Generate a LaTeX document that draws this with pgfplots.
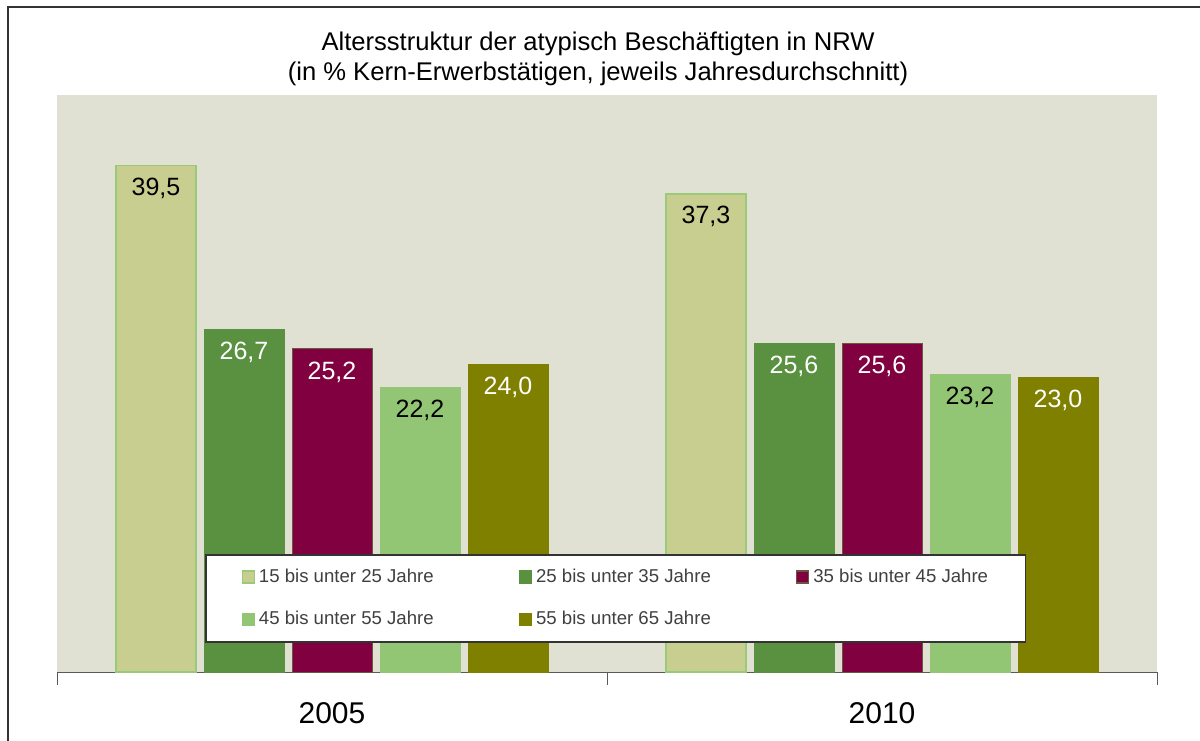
\documentclass[border=0pt]{standalone}
\usepackage{fontspec}
\setmainfont{Liberation Sans}
\usepackage{pgfplots}
\pgfplotsset{compat=1.18}
\definecolor{plotbg}{HTML}{E0E1D3}
\definecolor{sA}{HTML}{C8CE8F}
\definecolor{sAedge}{HTML}{98CA78}
\definecolor{sB}{HTML}{5A9140}
\definecolor{sC}{HTML}{800040}
\definecolor{sD}{HTML}{93C674}
\definecolor{sE}{HTML}{808000}
\definecolor{legtext}{HTML}{404040}
\definecolor{framegray}{HTML}{333333}

\begin{document}
\begin{tikzpicture}
  \useasboundingbox (0,0) rectangle (600pt,370pt);
  \draw[framegray,line width=1pt] (4pt,-2pt) -- (4pt,366.5pt) -- (602pt,366.5pt);
  \node[align=center,font=\fontsize{12.8}{15}\selectfont] at (299pt,340.5pt)
    {Altersstruktur der atypisch Beschäftigten in NRW\\(in \% Kern-Erwerbstätigen, jeweils Jahresdurchschnitt)};
  \begin{axis}[
      at={(28.5pt,34pt)}, anchor=south west,
      scale only axis,
      width=550pt, height=288.5pt,
      xmin=-0.5, xmax=1.5,
      ymin=0, ymax=45,
      ybar=4pt, bar width=40pt,
      axis background/.style={fill=plotbg},
      axis x line*=bottom,
      axis y line=none,
      x axis line style={gray!70!black,-},
      xtick={0,1},
      xticklabels={2005,2010},
      major tick length=0pt,
      minor xtick={-0.5,0.5,1.5},
      minor tick length=6.5pt,
      tick align=outside,
      minor tick style={gray!70!black},
      xticklabel style={font=\fontsize{15}{17}\selectfont, anchor=center, yshift=-20.5pt},
      ytick=\empty,
      nodes near coords,
      /pgf/number format/.cd, use comma, fixed, fixed zerofill, precision=1, assume math mode=true,
      /pgfplots/.cd,
      every node near coord/.append style={font=\fontsize{12.5}{14}\selectfont, anchor=center, yshift=-11.5pt},
      legend columns=3,
      legend cell align=left,
      legend style={at={(0.1345,0.2045)}, anchor=north west,
        draw=framegray, fill=white, line width=0.8pt,
        font=\fontsize{9.3}{11}\selectfont, text=legtext,
        inner xsep=18pt, inner ysep=5pt,
        /tikz/row sep=9pt},
      legend image code/.code={\draw[#1,line width=0.6pt] (0pt,-3pt) rectangle (6pt,3pt);},
    ]
    \addplot[fill=sA, draw=sAedge, line width=0.8pt, every node near coord/.append style={text=black}]
      coordinates {(0,39.5) (1,37.3)};
    \addplot[fill=sB, draw=sB, every node near coord/.append style={text=white}]
      coordinates {(0,26.7) (1,25.6)};
    \addplot[fill=sC, draw=sB!60!sC, line width=0.5pt, every node near coord/.append style={text=white}]
      coordinates {(0,25.2) (1,25.6)};
    \addplot[fill=sD, draw=sD, every node near coord/.append style={text=black}]
      coordinates {(0,22.2) (1,23.2)};
    \addplot[fill=sE, draw=sE, every node near coord/.append style={text=white}]
      coordinates {(0,24.0) (1,23.0)};
    \legend{\makebox[128pt][l]{15 bis unter 25 Jahre},
            \makebox[128pt][l]{25 bis unter 35 Jahre},
            \makebox[86pt][l]{35 bis unter 45 Jahre},
            \makebox[128pt][l]{45 bis unter 55 Jahre},
            \makebox[128pt][l]{55 bis unter 65 Jahre}}
  \end{axis}
\end{tikzpicture}
\end{document}
